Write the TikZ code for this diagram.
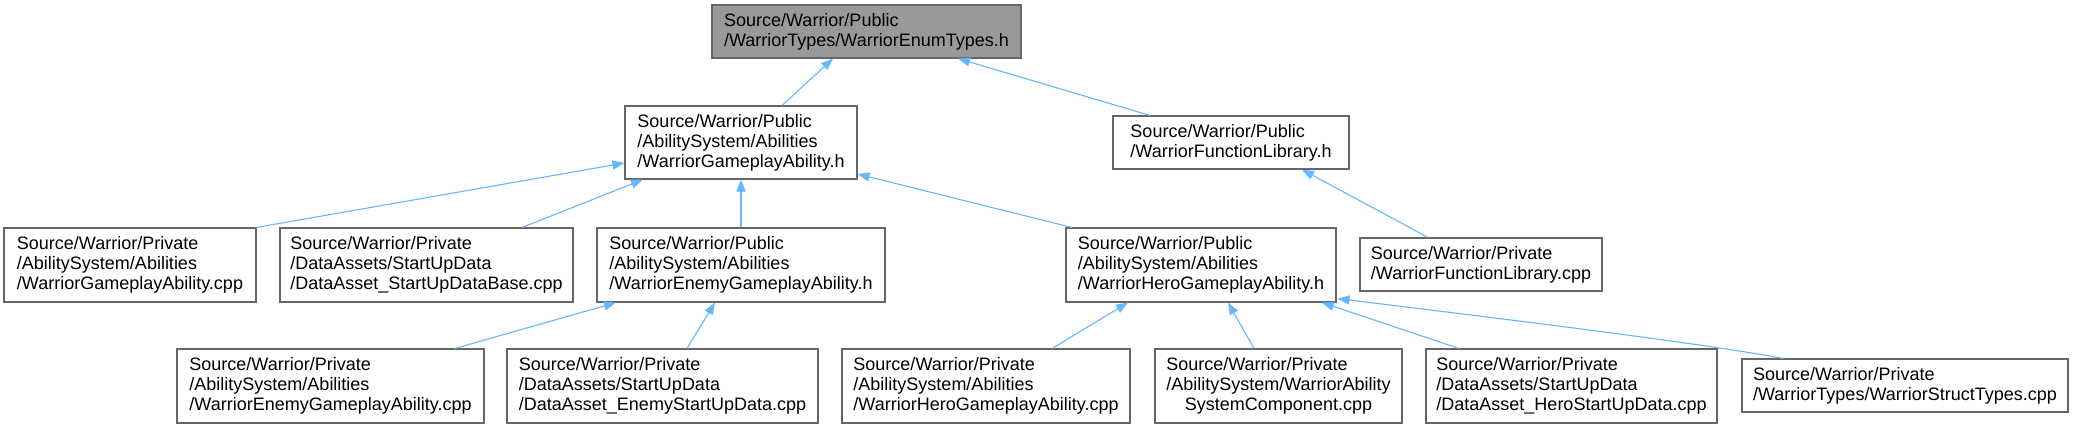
\documentclass[tikz,border=0pt]{standalone}
\usepackage{fontspec}
\setmainfont{Liberation Sans}
\usetikzlibrary{arrows.meta,calc}
\definecolor{edgeblue}{HTML}{63B8FF}
\definecolor{boxborder}{HTML}{666666}
\definecolor{topfill}{HTML}{999999}
\tikzset{
  filebox/.style={draw=boxborder, fill=white, line width=1.1pt, align=left,
    inner sep=0pt, font=\fontsize{18pt}{20pt}\selectfont},
  topbox/.style={filebox, fill=topfill},
  dep/.style={draw=edgeblue, line width=1.1pt,
    -{Triangle[length=12pt,width=9pt,fill=edgeblue]}}
}
\begin{document}
\begin{tikzpicture}[x=1pt,y=-1pt]
\useasboundingbox[fill=white] (0,0) rectangle (2074,428);
% nodes
\node[topbox, minimum width=309, minimum height=53] (top) at (866.5,31.5)
  {Source/Warrior/Public\\/WarriorTypes/WarriorEnumTypes.h};
\node[filebox, minimum width=232, minimum height=73] (gah) at (741,142.5)
  {Source/Warrior/Public\\/AbilitySystem/Abilities\\/WarriorGameplayAbility.h};
\node[filebox, minimum width=236, minimum height=53] (flh) at (1231,142.5)
  {Source/Warrior/Public\\/WarriorFunctionLibrary.h};
\node[filebox, minimum width=252, minimum height=74] (gacpp) at (130,265)
  {Source/Warrior/Private\\/AbilitySystem/Abilities\\/WarriorGameplayAbility.cpp};
\node[filebox, minimum width=293, minimum height=74] (sudb) at (426.5,265)
  {Source/Warrior/Private\\/DataAssets/StartUpData\\/DataAsset\_StartUpDataBase.cpp};
\node[filebox, minimum width=288, minimum height=74] (egah) at (741,265)
  {Source/Warrior/Public\\/AbilitySystem/Abilities\\/WarriorEnemyGameplayAbility.h};
\node[filebox, minimum width=270, minimum height=74] (hgah) at (1201,265)
  {Source/Warrior/Public\\/AbilitySystem/Abilities\\/WarriorHeroGameplayAbility.h};
\node[filebox, minimum width=242, minimum height=53] (flcpp) at (1481,264.5)
  {Source/Warrior/Private\\/WarriorFunctionLibrary.cpp};
\node[filebox, minimum width=307, minimum height=74] (egacpp) at (330.5,386)
  {Source/Warrior/Private\\/AbilitySystem/Abilities\\/WarriorEnemyGameplayAbility.cpp};
\node[filebox, minimum width=311, minimum height=74] (esud) at (662.5,386)
  {Source/Warrior/Private\\/DataAssets/StartUpData\\/DataAsset\_EnemyStartUpData.cpp};
\node[filebox, minimum width=288, minimum height=74] (hgacpp) at (986,386)
  {Source/Warrior/Private\\/AbilitySystem/Abilities\\/WarriorHeroGameplayAbility.cpp};
\node[filebox, minimum width=247, minimum height=74] (asc) at (1278.5,386)
  {\begin{tabular}{@{}l@{}}Source/Warrior/Private\\/AbilitySystem/WarriorAbility\\\multicolumn{1}{@{}c@{}}{SystemComponent.cpp}\end{tabular}};
\node[filebox, minimum width=291, minimum height=74] (hsud) at (1571.5,386)
  {Source/Warrior/Private\\/DataAssets/StartUpData\\/DataAsset\_HeroStartUpData.cpp};
\node[filebox, minimum width=326, minimum height=53] (st) at (1905,385.5)
  {Source/Warrior/Private\\/WarriorTypes/WarriorStructTypes.cpp};
% edges
\draw[dep] ($(gah.north)+(41,0)$) -- ($(top.south)+(-33.5,0)$);
\draw[dep] ($(flh.north)+(-81,0)$) -- ($(top.south)+(91.5,0)$);
\draw[dep] (gacpp.north east) -- ($(gah.west)+(0,20.5)$);
\draw[dep] ($(sudb.north)+(95.5,0)$) -- ($(gah.south)+(-98,0)$);
\draw[dep] (egah.north) -- (gah.south);
\draw[dep] ($(hgah.north)+(-129,0)$) -- ($(gah.east)+(0,31.5)$);
\draw[dep] ($(flcpp.north)+(-53,0)$) -- ($(flh.south)+(71,0)$);
\draw[dep] ($(egacpp.north)+(124.5,0)$) -- ($(egah.south)+(-125,0)$);
\draw[dep] ($(esud.north)+(24.5,0)$) -- ($(egah.south)+(-26,0)$);
\draw[dep] ($(hgacpp.north)+(66,0)$) -- ($(hgah.south)+(-73,0)$);
\draw[dep] ($(asc.north)+(-24.5,0)$) -- ($(hgah.south)+(27,0)$);
\draw[dep] ($(hsud.north)+(-112.5,0)$) -- ($(hgah.south)+(121,0)$);
\draw[dep] ($(st.north)+(-122,0)$) .. controls ($(st.north)+(-205,-16)$) and ($(hgah.south east)+(114,10)$) .. ($(hgah.south east)+(1,-4)$);
\end{tikzpicture}
\end{document}
